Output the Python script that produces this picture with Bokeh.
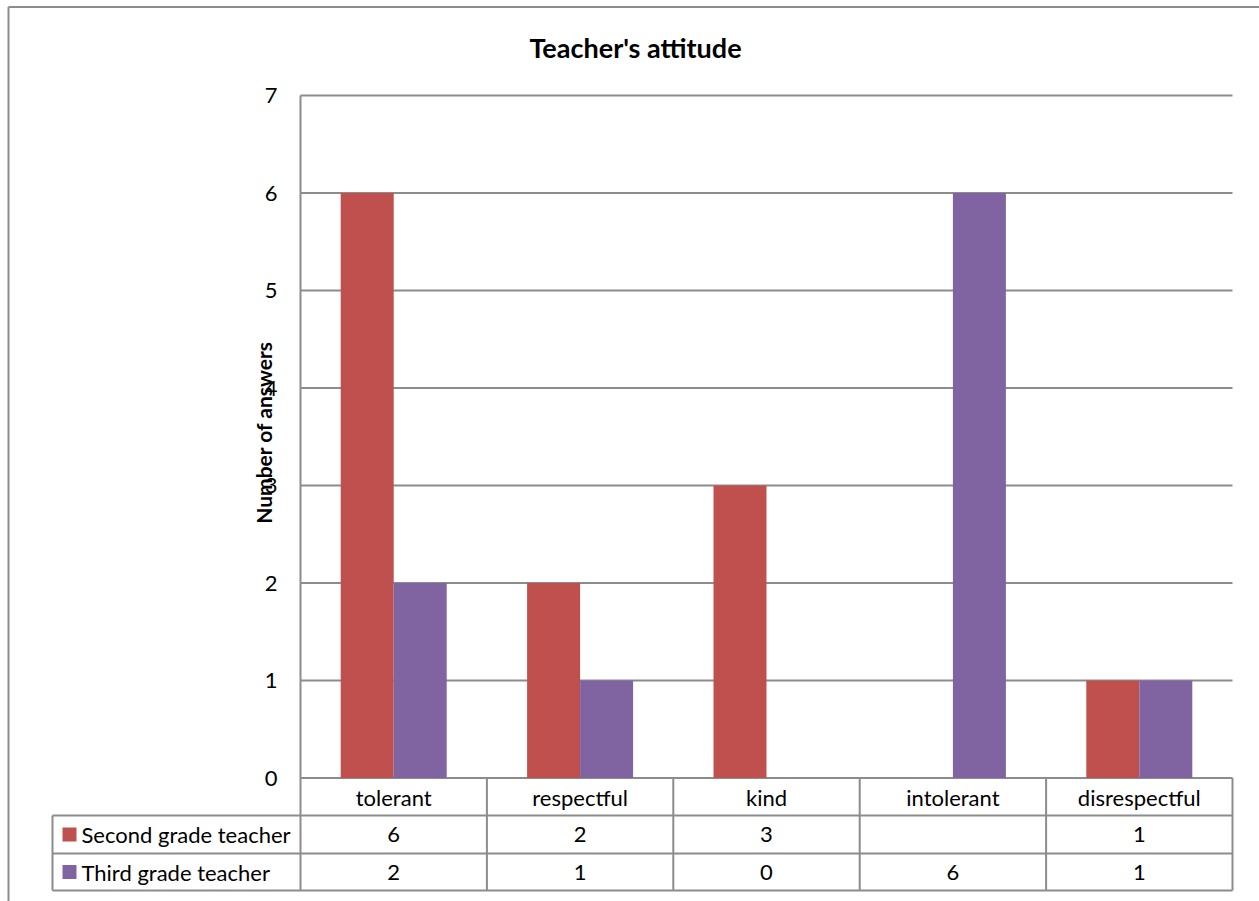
import math
from bokeh.plotting import figure
from bokeh.models import Range1d
from bokeh.core.properties import value
from bokeh.embed import file_html
from bokeh.resources import INLINE

# ---- data ----
categories = ["tolerant", "respectful", "kind", "intolerant", "disrespectful"]
series_names = ["Second grade teacher", "Third grade teacher"]
second_grade = [6, 2, 3, None, 1]
third_grade = [2, 1, 0, 6, 1]
y_ticks = [0, 1, 2, 3, 4, 5, 6, 7]
colors = ["#C0504D", "#8064A2"]
title_text = "Teacher's attitude"
y_title = "Number of answers"

# ---- layout helpers (pixel -> data) ----
W, H = 1259, 901
PX_LEFT, PX_RIGHT = 300.0, 1232.0
PY_ZERO, PY_TOP = 777.5, 95.0
CW = (PX_RIGHT - PX_LEFT) / len(categories)
UNIT = (PY_ZERO - PY_TOP) / 7.0


def X(px):
    return (px - PX_LEFT) / CW


def Y(py):
    return (PY_ZERO - py) / UNIT


FONT = value("Lato")
GRID = "#8c8c8c"
FS = "22px"

p = figure(width=W, height=H, x_range=Range1d(X(0), X(W)), y_range=Range1d(Y(H), Y(0)),
           output_backend="svg", toolbar_location=None, min_border=0,
           x_axis_type=None, y_axis_type=None)
p.outline_line_color = None
p.grid.visible = False
p.background_fill_color = "white"
p.border_fill_color = "white"

n = len(categories)

# gridlines
p.segment(x0=[0] * len(y_ticks), x1=[n] * len(y_ticks), y0=y_ticks, y1=y_ticks,
          line_color=GRID, line_width=2)

# bars
bw = 53.0 / CW
off = bw / 2
for k, (vals, col) in enumerate(zip([second_grade, third_grade], colors)):
    xs = [i + 0.5 + (-off if k == 0 else off) for i, v in enumerate(vals) if v is not None]
    tops = [v for v in vals if v is not None]
    p.vbar(x=xs, top=tops, bottom=0, width=bw, fill_color=col, line_color=None)

# y tick labels
p.text(x=[X(277)] * len(y_ticks), y=y_ticks, text=[str(t) for t in y_ticks],
       text_font=FONT, text_font_size=FS, text_align="right", text_baseline="middle",
       text_color="black")

# y title
p.text(x=[X(263)], y=[Y(432)], text=[y_title], angle=math.pi / 2,
       text_font=FONT, text_font_size="21px", text_font_style="bold",
       text_align="center", text_baseline="middle", text_color="black")

# title
p.text(x=[X(635)], y=[Y(47)], text=[title_text], text_font=FONT, text_font_size="27px",
       text_font_style="bold", text_align="center", text_baseline="middle", text_color="black")

# data table lines
r1, r2, r3 = Y(815), Y(853), Y(890)
x_leg = X(52)
p.segment(x0=[x_leg, x_leg, x_leg], x1=[n, n, n], y0=[r1, r2, r3], y1=[r1, r2, r3],
          line_color=GRID, line_width=2)
p.segment(x0=list(range(n + 1)), x1=list(range(n + 1)), y0=[0] * (n + 1), y1=[r3] * (n + 1),
          line_color=GRID, line_width=2)
p.segment(x0=[0], x1=[0], y0=[7], y1=[0], line_color=GRID, line_width=2)
p.segment(x0=[x_leg], x1=[x_leg], y0=[r1], y1=[r3], line_color=GRID, line_width=2)

# category labels
p.text(x=[i + 0.5 for i in range(n)], y=[Y(797)] * n, text=categories,
       text_font=FONT, text_font_size=FS, text_align="center", text_baseline="middle",
       text_color="black")

# table values
row_y = [Y(834), Y(871.5)]
for vals, ry in zip([second_grade, third_grade], row_y):
    p.text(x=[i + 0.5 for i in range(n)], y=[ry] * n,
           text=["" if v is None else str(v) for v in vals],
           text_font=FONT, text_font_size=FS, text_align="center", text_baseline="middle",
           text_color="black")

# legend keys in table
p.scatter(x=[X(69)] * 2, y=row_y, marker="square", size=14, fill_color=colors, line_color=None)
p.text(x=[X(81)] * 2, y=row_y, text=series_names, text_font=FONT, text_font_size=FS,
       text_align="left", text_baseline="middle", text_color="black")

# outer chart border (top and left visible)
p.segment(x0=[X(8), X(8)], x1=[X(W), X(8)], y0=[Y(6.5), Y(6.5)], y1=[Y(6.5), Y(H)],
          line_color=GRID, line_width=2)

open("out.html", "w").write(file_html(p, INLINE))
